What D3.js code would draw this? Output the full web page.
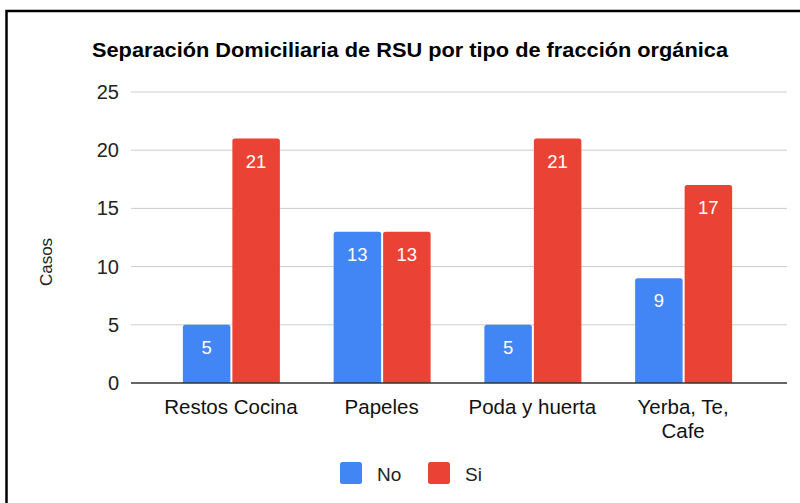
<!DOCTYPE html>
<html>
<head>
<meta charset="utf-8">
<script src="https://cdn.jsdelivr.net/npm/d3@7"></script>
<style>
  body { margin: 0; background: #fff; }
  svg { display: block; font-family: Arial, "Liberation Sans", sans-serif; }
</style>
</head>
<body>
<div id="chart"></div>
<script>
var categories = ['Restos Cocina', 'Papeles', 'Poda y huerta', 'Yerba, Te, Cafe'];
var seriesNames = ['No', 'Si'];
var noValues = [5, 13, 5, 9];
var siValues = [21, 13, 21, 17];
var yTicks = [0, 5, 10, 15, 20, 25];

var width = 800, height = 503;
var colors = {No: '#4285f4', Si: '#ea4335'};

var svg = d3.select('#chart').append('svg')
  .attr('width', width)
  .attr('height', height);

svg.append('rect').attr('width', width).attr('height', height).attr('fill', '#fff');

// frame around the chart (only left and top visible)
svg.append('path')
  .attr('d', 'M6.5,503 L6.5,11 L800,11')
  .attr('fill', 'none')
  .attr('stroke', '#000')
  .attr('stroke-width', 2.5);

svg.append('text')
  .attr('x', 410).attr('y', 57)
  .attr('text-anchor', 'middle')
  .attr('font-size', 20).attr('font-weight', 'bold')
  .attr('textLength', 636).attr('lengthAdjust', 'spacingAndGlyphs')
  .attr('fill', '#000')
  .text('Separación Domiciliaria de RSU por tipo de fracción orgánica');

var y = d3.scaleLinear().domain([0, 25]).range([383, 92]);
var x = d3.scaleBand().domain(categories).range([155.5, 758.5]).padding(0);
var xs = d3.scaleBand().domain(seriesNames).range([-48, 49]).paddingInner(0.04);

// gridlines
svg.append('g').selectAll('line').data(yTicks.filter(function(d){ return d > 0; }))
  .enter().append('line')
  .attr('x1', 131).attr('x2', 787)
  .attr('y1', function(d){ return y(d); }).attr('y2', function(d){ return y(d); })
  .attr('stroke', '#cccccc').attr('stroke-width', 1);

// y axis labels
svg.append('g').selectAll('text').data(yTicks).enter().append('text')
  .attr('x', 119).attr('y', function(d){ return y(d) + 7; })
  .attr('text-anchor', 'end')
  .attr('font-size', 20).attr('fill', '#222')
  .text(function(d){ return d; });

svg.append('text')
  .attr('transform', 'translate(52,262) rotate(-90)')
  .attr('text-anchor', 'middle')
  .attr('font-size', 17).attr('fill', '#222')
  .text('Casos');

var rows = [];
categories.forEach(function(c, i){
  rows.push({cat: c, s: 'No', v: noValues[i]});
  rows.push({cat: c, s: 'Si', v: siValues[i]});
});

function topRounded(x0, y0, w, h, r) {
  return 'M' + x0 + ',' + (y0 + h) +
    'V' + (y0 + r) + 'Q' + x0 + ',' + y0 + ' ' + (x0 + r) + ',' + y0 +
    'H' + (x0 + w - r) + 'Q' + (x0 + w) + ',' + y0 + ' ' + (x0 + w) + ',' + (y0 + r) +
    'V' + (y0 + h) + 'Z';
}

var bars = svg.append('g').selectAll('g').data(rows).enter().append('g');

bars.append('path')
  .attr('d', function(d){
    var cx = x(d.cat) + x.bandwidth() / 2;
    var x0 = cx + xs(d.s);
    return topRounded(x0, y(d.v), xs.bandwidth(), y(0) - y(d.v), 2.5);
  })
  .attr('fill', function(d){ return colors[d.s]; });

bars.append('text')
  .attr('x', function(d){ return x(d.cat) + x.bandwidth() / 2 + xs(d.s) + xs.bandwidth() / 2; })
  .attr('y', function(d){ return y(d.v) + 29; })
  .attr('text-anchor', 'middle')
  .attr('font-size', 18.5).attr('fill', '#fff')
  .text(function(d){ return d.v; });

// baseline
svg.append('line')
  .attr('x1', 131).attr('x2', 787)
  .attr('y1', y(0)).attr('y2', y(0))
  .attr('stroke', '#333').attr('stroke-width', 1.5);

// x labels (wrapped)
var xLabelLines = {
  'Restos Cocina': ['Restos Cocina'],
  'Papeles': ['Papeles'],
  'Poda y huerta': ['Poda y huerta'],
  'Yerba, Te, Cafe': ['Yerba, Te,', 'Cafe']
};
var xl = svg.append('g').selectAll('text').data(categories).enter().append('text')
  .attr('text-anchor', 'middle')
  .attr('font-size', 20.5).attr('fill', '#111')
  .attr('x', function(d){ return x(d) + x.bandwidth() / 2; })
  .attr('y', 414);
xl.selectAll('tspan').data(function(d){ return xLabelLines[d].map(function(t){ return {t: t, c: d}; }); })
  .enter().append('tspan')
  .attr('x', function(d){ return x(d.c) + x.bandwidth() / 2; })
  .attr('dy', function(d, i){ return i === 0 ? 0 : 24; })
  .text(function(d){ return d.t; });

// legend
var legendPos = [{s: 'No', x: 340}, {s: 'Si', x: 428}];
var lg = svg.append('g').selectAll('g').data(legendPos).enter().append('g')
  .attr('transform', function(d){ return 'translate(' + d.x + ',462)'; });
lg.append('rect').attr('width', 22).attr('height', 22).attr('rx', 2.5)
  .attr('fill', function(d){ return colors[d.s]; });
lg.append('text').attr('x', 37).attr('y', 19)
  .attr('font-size', 19).attr('fill', '#222')
  .text(function(d){ return d.s; });
</script>
</body>
</html>
